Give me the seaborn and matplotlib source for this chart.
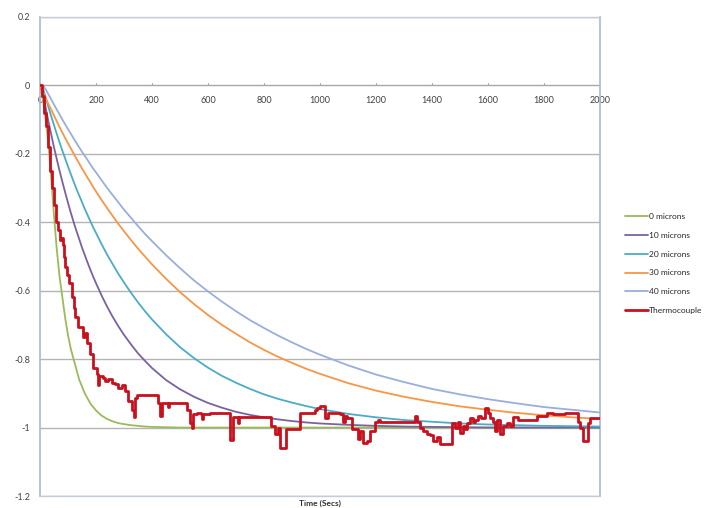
import matplotlib
matplotlib.use("Agg")
import matplotlib.pyplot as plt
import seaborn as sns
import pandas as pd

# ---- data ----
time_model = [0, 10, 20, 30, 40, 50, 60, 70, 80, 90, 100, 110, 120, 130, 140,
              150, 160, 170, 180, 190, 200, 220, 240, 260, 280, 300, 325, 350,
              375, 400, 450, 500, 550, 600, 650, 700, 750, 800, 850, 900, 950,
              1000, 1100, 1200, 1300, 1400, 1500, 1600, 1700, 1800, 1900, 2000]

microns_0 = [0, -0.04, -0.10, -0.17, -0.27, -0.38, -0.48, -0.56, -0.62, -0.68,
             -0.73, -0.77, -0.80, -0.83, -0.86, -0.88, -0.90, -0.915, -0.93,
             -0.94, -0.95, -0.965, -0.975, -0.982, -0.987, -0.99, -0.993,
             -0.995, -0.997, -0.998, -0.999, -1.0, -1.0, -1.0, -1.0, -1.0, -1.0,
             -1.0, -1.0, -1.0, -1.0, -1.0, -1.0, -1.0, -1.0, -1.0, -1.0, -1.0,
             -1.0, -1.0, -1.0, -1.0]
microns_10 = [0, -0.022, -0.064, -0.105, -0.143, -0.181, -0.216, -0.250, -0.282,
              -0.313, -0.343, -0.372, -0.399, -0.425, -0.449, -0.474, -0.496,
              -0.518, -0.539, -0.559, -0.578, -0.614, -0.647, -0.677, -0.704,
              -0.729, -0.757, -0.783, -0.805, -0.826, -0.861, -0.888, -0.910,
              -0.928, -0.942, -0.954, -0.963, -0.970, -0.976, -0.981, -0.985,
              -0.988, -0.992, -0.995, -0.997, -0.998, -0.999, -1.0, -1.0, -1.0,
              -1.0, -1.0]
microns_20 = [0, -0.006, -0.035, -0.063, -0.090, -0.116, -0.142, -0.167, -0.191,
              -0.214, -0.237, -0.259, -0.281, -0.302, -0.322, -0.341, -0.361,
              -0.379, -0.397, -0.415, -0.431, -0.464, -0.495, -0.523, -0.551,
              -0.576, -0.606, -0.634, -0.660, -0.684, -0.727, -0.765, -0.797,
              -0.825, -0.849, -0.869, -0.887, -0.903, -0.916, -0.927, -0.937,
              -0.946, -0.960, -0.970, -0.978, -0.983, -0.988, -0.991, -0.993,
              -0.995, -0.996, -0.997]
microns_30 = [0, -0.018, -0.036, -0.054, -0.071, -0.088, -0.105, -0.122, -0.138,
              -0.154, -0.169, -0.184, -0.199, -0.214, -0.228, -0.243, -0.256,
              -0.270, -0.283, -0.297, -0.310, -0.335, -0.359, -0.382, -0.405,
              -0.426, -0.452, -0.477, -0.500, -0.523, -0.565, -0.604, -0.639,
              -0.671, -0.700, -0.726, -0.751, -0.773, -0.793, -0.811, -0.828,
              -0.843, -0.870, -0.892, -0.910, -0.925, -0.938, -0.948, -0.957,
              -0.964, -0.970, -0.975]
microns_40 = [0, 0, -0.011, -0.026, -0.041, -0.056, -0.071, -0.085, -0.100,
              -0.114, -0.128, -0.141, -0.155, -0.168, -0.181, -0.194, -0.206,
              -0.218, -0.231, -0.243, -0.254, -0.277, -0.300, -0.321, -0.342,
              -0.363, -0.387, -0.411, -0.434, -0.455, -0.496, -0.534, -0.570,
              -0.602, -0.632, -0.660, -0.686, -0.709, -0.731, -0.751, -0.770,
              -0.787, -0.818, -0.845, -0.867, -0.887, -0.903, -0.917, -0.929,
              -0.940, -0.948, -0.956]

time_tc = [0, 7, 14, 21, 29, 36, 43, 50, 57, 64, 71, 75, 82, 86, 89, 96, 104,
           114, 120, 125, 136, 154, 161, 168, 179, 189, 204, 207, 211, 225, 232,
           243, 257, 268, 279, 293, 304, 314, 329, 336, 340, 346, 418, 421, 429,
           436, 454, 458, 462, 507, 525, 536, 543, 546, 561, 575, 579, 583, 607,
           661, 679, 686, 690, 707, 711, 821, 825, 839, 850, 857, 875, 880, 921,
           929, 982, 989, 1000, 1018, 1029, 1071, 1082, 1089, 1096, 1114, 1136,
           1143, 1154, 1168, 1179, 1196, 1207, 1214, 1332, 1339, 1346, 1357,
           1368, 1382, 1393, 1404, 1418, 1429, 1464, 1471, 1482, 1493, 1500,
           1511, 1518, 1525, 1536, 1546, 1554, 1564, 1575, 1589, 1600, 1607,
           1618, 1625, 1632, 1643, 1654, 1668, 1679, 1689, 1707, 1768, 1775,
           1804, 1811, 1832, 1868, 1875, 1918, 1921, 1929, 1939, 1954, 1957,
           1964, 2000]
thermocouple = [0, -0.03, -0.08, -0.12, -0.18, -0.25, -0.30, -0.35, -0.40,
                -0.423, -0.452, -0.445, -0.467, -0.50, -0.531, -0.555, -0.578,
                -0.619, -0.650, -0.678, -0.707, -0.736, -0.725, -0.754, -0.784,
                -0.825, -0.842, -0.877, -0.848, -0.854, -0.863, -0.857, -0.869,
                -0.872, -0.883, -0.877, -0.892, -0.921, -0.950, -0.970, -0.915,
                -0.906, -0.906, -0.927, -0.965, -0.927, -0.927, -0.940, -0.927,
                -0.927, -0.950, -0.988, -1.000, -0.959, -0.956, -0.959, -0.975,
                -0.959, -0.956, -0.956, -1.035, -1.035, -0.968, -0.988, -0.968,
                -0.968, -0.994, -1.018, -1.000, -1.059, -1.059, -1.003, -1.003,
                -0.956, -0.950, -0.944, -0.938, -0.973, -0.956, -0.959, -0.985,
                -0.965, -0.973, -1.003, -1.032, -1.009, -1.044, -1.038, -1.009,
                -0.985, -0.979, -0.985, -0.985, -0.965, -0.985, -1.000, -1.009,
                -1.018, -1.023, -1.038, -1.029, -1.047, -1.047, -0.988, -1.000,
                -0.985, -1.015, -0.994, -1.003, -0.988, -0.973, -0.985, -0.979,
                -0.965, -0.973, -0.944, -0.956, -0.973, -0.985, -1.009, -0.979,
                -1.018, -0.994, -0.988, -0.994, -0.970, -0.979, -0.979, -0.965,
                -0.965, -0.956, -0.959, -0.959, -0.956, -0.956, -0.985, -1.000,
                -1.038, -1.038, -0.988, -0.973, -0.973]

series_names = ["0 microns", "10 microns", "20 microns", "30 microns", "40 microns"]
series_values = [microns_0, microns_10, microns_20, microns_30, microns_40]
colors = ["#9BBB59", "#7A62A0", "#4BACC6", "#F79646", "#9AAEDB"]
tc_color = "#C8101E"

model = pd.concat(
    [pd.DataFrame({"time": time_model, "value": v, "series": n})
     for n, v in zip(series_names, series_values)],
    ignore_index=True,
)
tc = pd.DataFrame({"time": time_tc, "value": thermocouple})

sns.set_style("white")
plt.rcParams["font.family"] = ["Lato", "DejaVu Sans"]

fig = plt.figure(figsize=(7.08, 5.08), dpi=100)
ax = fig.add_axes([40 / 708, 12 / 508, 560 / 708, 479 / 508])

# gridlines
for yv in [-1.2, -1.0, -0.8, -0.6, -0.4, -0.2, 0.2]:
    ax.axhline(yv, color="#B4B4B4", lw=1.0, zorder=0)
ax.axhline(0, color="#A8A8A8", lw=1.0, zorder=1)

sns.lineplot(data=model, x="time", y="value", hue="series",
             palette=dict(zip(series_names, colors)), linewidth=1.3,
             ax=ax, legend=False, zorder=3)
sns.lineplot(data=tc, x="time", y="value", color=tc_color, linewidth=2.0,
             drawstyle="steps-post", ax=ax, zorder=4)

ax.set_xlim(0, 2000)
ax.set_ylim(-1.2, 0.2)
ax.set_yticks([0.2, 0, -0.2, -0.4, -0.6, -0.8, -1.0, -1.2])
ax.set_yticklabels(["0.2", "0", "-0.2", "-0.4", "-0.6", "-0.8", "-1", "-1.2"],
                   fontsize=6.5, color="#404040")
ax.tick_params(axis="y", length=0, pad=7)
ax.set_xticks([])
ax.set_xlabel("")
ax.set_ylabel("")

# x tick labels along the zero line (Excel style axis crossing)
for xv in range(0, 2001, 200):
    ax.plot([xv, xv], [0, 0.008], color="#A8A8A8", lw=0.8, zorder=1)
    ax.text(xv, -0.03, str(xv), ha="center", va="top", fontsize=6.5,
            color="#404040", zorder=2)

for side in ["left", "right"]:
    ax.spines[side].set_color("#A9B8D4")
    ax.spines[side].set_linewidth(1.2)
for side in ["top", "bottom"]:
    ax.spines[side].set_color("#C4CCDA")
    ax.spines[side].set_linewidth(1.0)

fig.text(320 / 708, 1 - 503 / 508, "Time (Secs)", ha="center", va="center",
         fontsize=6, fontweight="bold", color="#303030")

# legend
handles = [plt.Line2D([], [], color=c, lw=1.3) for c in colors]
handles.append(plt.Line2D([], [], color=tc_color, lw=2.0))
fig.legend(handles, series_names + ["Thermocouple"], loc="upper left",
           bbox_to_anchor=(625 / 708, 1 - 213 / 508), frameon=False,
           fontsize=6, handlelength=2.8, handletextpad=0.1, labelspacing=1.42,
           borderaxespad=0, borderpad=0)

fig.savefig("out.png", dpi=100)
